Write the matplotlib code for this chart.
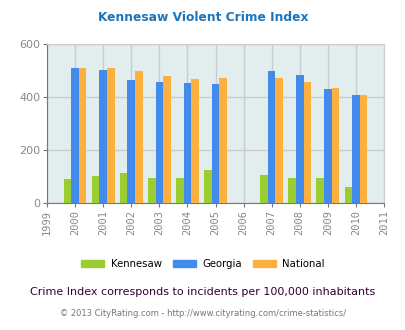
import numpy as np
import matplotlib
matplotlib.use("Agg")
import matplotlib.pyplot as plt
from matplotlib.patches import Patch

years = [2000, 2001, 2002, 2003, 2004, 2005, 2007, 2008, 2009, 2010]
kennesaw = [91, 102, 114, 95, 95, 125, 106, 95, 95, 61]
georgia = [507, 500, 462, 455, 451, 447, 496, 481, 429, 406]
national = [507, 507, 496, 477, 466, 470, 470, 455, 432, 406]

series = [
    ('Kennesaw', kennesaw, '#9acd32'),
    ('Georgia', georgia, '#428bea'),
    ('National', national, '#fbb040'),
]

fig = plt.figure(figsize=(4.06, 3.30), dpi=100)
ax = fig.add_axes([0.1158, 0.3848, 0.83, 0.483])
ax.set_facecolor('#e2eeee')

w = 0.27
x = np.array(years)
for i, (name, vals, col) in enumerate(series):
    ax.bar(x + (i - 1) * w, vals, width=w, color=col, zorder=3)

ax.set_xlim(1999, 2011)
ax.set_ylim(0, 600)
ax.set_xticks(range(1999, 2012))
ax.set_xticklabels([str(y) for y in range(1999, 2012)], rotation=90,
                   fontsize=7.5, color='#888888', family='DejaVu Sans Mono')
ax.set_yticks([0, 200, 400, 600])
ax.set_yticklabels(['0', '200', '400', '600'], fontsize=8, color='#888888')
ax.grid(True, color='#cccccc', linewidth=1, zorder=0)
ax.tick_params(axis='both', length=3, color='#777777', pad=2)
for s in ['top', 'right']:
    ax.spines[s].set_color('#cccccc')
for s in ['left', 'bottom']:
    ax.spines[s].set_color('#777777')

fig.text(0.5, 0.948, 'Kennesaw Violent Crime Index', ha='center', va='center',
         fontsize=8.8, fontweight='bold', color='#1a75bc')

handles = [Patch(color=c, label=n) for n, _, c in series]
fig.legend(handles=handles, loc='center', bbox_to_anchor=(0.5, 0.2), ncol=3,
           frameon=False, fontsize=7.3, handlelength=2.3, handleheight=0.8,
           columnspacing=1.1, handletextpad=0.6)

fig.text(0.5, 0.115, 'Crime Index corresponds to incidents per 100,000 inhabitants',
         ha='center', va='center', fontsize=8, color='#330033')
fig.text(0.5, 0.05, '\u00a9 2013 CityRating.com - http://www.cityrating.com/crime-statistics/',
         ha='center', va='center', fontsize=6, color='#777777')

fig.savefig('out.png', dpi=100)
